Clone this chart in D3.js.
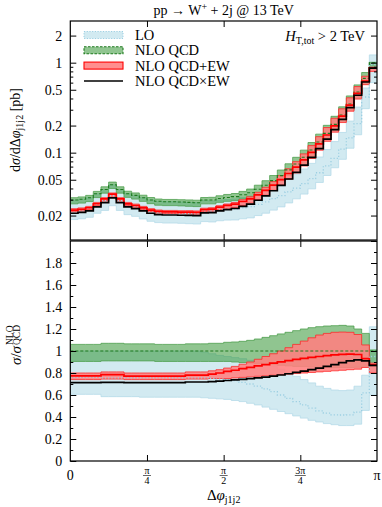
<!DOCTYPE html>
<html><head><meta charset="utf-8">
<script src="https://cdn.jsdelivr.net/npm/d3@7"></script>
<style>
body{margin:0;background:#fff}
svg{display:block}
text{font-family:"Liberation Serif","DejaVu Serif",serif;fill:#000}
</style>
</head><body>
<svg id="c" width="382" height="507"></svg>
<script>
// ---- data (40 bins in Δφ from 0 to π) ----
const nBins = 40;
const nloQCD = [0.0298,0.0304,0.0316,0.035,0.039,0.044,0.039,0.035,0.0335,0.0316,
  0.0298,0.0288,0.0285,0.0285,0.0283,0.0280,0.0278,0.0298,0.0298,0.0310,
  0.0318,0.0325,0.0341,0.0359,0.0392,0.0434,0.0489,0.0555,0.0643,0.0749,
  0.0889,0.107,0.1315,0.164,0.206,0.262,0.348,0.472,0.67,1.0];
// ratios to NLO QCD
const nloLo = [0.905,0.905,0.905,0.905,0.91,0.91,0.91,0.91,0.91,0.91,
  0.91,0.905,0.905,0.905,0.905,0.905,0.905,0.905,0.905,0.905,
  0.905,0.9,0.895,0.89,0.885,0.88,0.875,0.87,0.865,0.86,
  0.858,0.855,0.853,0.852,0.85,0.85,0.85,0.852,0.86,0.86];
const nloHi = [1.06,1.06,1.06,1.06,1.07,1.07,1.07,1.065,1.065,1.065,
  1.065,1.06,1.06,1.06,1.06,1.065,1.065,1.065,1.07,1.07,
  1.079,1.082,1.088,1.097,1.109,1.124,1.139,1.155,1.17,1.185,
  1.2,1.212,1.221,1.227,1.23,1.233,1.227,1.2,1.16,1.01];
const loRatio = [0.76,0.76,0.76,0.76,0.755,0.755,0.755,0.755,0.755,0.755,
  0.755,0.755,0.755,0.755,0.755,0.755,0.755,0.755,0.75,0.745,
  0.74,0.73,0.715,0.70,0.68,0.655,0.63,0.60,0.57,0.54,
  0.51,0.48,0.455,0.435,0.42,0.418,0.42,0.445,0.62,0.95];
const loLo = [0.606,0.606,0.606,0.606,0.585,0.585,0.585,0.585,0.585,0.58,
  0.58,0.58,0.58,0.58,0.58,0.58,0.58,0.575,0.57,0.565,
  0.56,0.55,0.54,0.525,0.51,0.49,0.47,0.45,0.43,0.41,
  0.39,0.37,0.355,0.34,0.33,0.322,0.322,0.335,0.46,0.6];
const loHi = [1.0,1.0,1.0,1.0,1.0,1.0,1.0,1.0,1.0,1.0,
  1.0,1.0,1.0,1.0,1.0,1.0,1.0,0.99,0.975,0.96,
  0.95,0.94,0.93,0.915,0.90,0.88,0.86,0.835,0.80,0.77,
  0.74,0.71,0.68,0.66,0.645,0.64,0.645,0.68,0.78,1.22];
const ewRatio = [0.773,0.773,0.773,0.773,0.785,0.785,0.785,0.772,0.772,0.772,
  0.772,0.772,0.772,0.772,0.772,0.78,0.78,0.78,0.79,0.80,
  0.815,0.825,0.84,0.852,0.865,0.877,0.89,0.902,0.913,0.923,
  0.933,0.942,0.95,0.958,0.965,0.97,0.972,0.968,0.93,0.875];
const ewLo = [0.74,0.74,0.74,0.74,0.745,0.745,0.745,0.74,0.74,0.74,
  0.74,0.74,0.74,0.74,0.74,0.745,0.745,0.745,0.75,0.75,
  0.75,0.755,0.76,0.765,0.77,0.775,0.78,0.785,0.79,0.795,
  0.80,0.805,0.81,0.815,0.82,0.825,0.83,0.835,0.85,0.80];
const ewHi = [0.80,0.80,0.80,0.80,0.81,0.81,0.81,0.80,0.80,0.80,
  0.80,0.80,0.80,0.80,0.80,0.81,0.81,0.81,0.82,0.83,
  0.845,0.86,0.88,0.90,0.925,0.95,0.975,1.0,1.03,1.06,
  1.09,1.12,1.145,1.16,1.17,1.172,1.17,1.15,1.055,0.89];
const mulRatio = [0.712,0.712,0.712,0.712,0.715,0.715,0.715,0.712,0.712,0.712,
  0.712,0.712,0.712,0.712,0.712,0.718,0.718,0.718,0.722,0.726,
  0.732,0.737,0.742,0.748,0.755,0.763,0.772,0.782,0.793,0.805,
  0.817,0.83,0.845,0.86,0.877,0.895,0.91,0.92,0.91,0.87];
const topTicks = [0.02,0.05,0.1,0.2,0.5,1,2];
const topTickLabels = ["0.02","0.05","0.1","0.2","0.5","1","2"];
const botTicks = [0,0.2,0.4,0.6,0.8,1.0,1.2,1.4,1.6,1.8];
const botTickLabels = ["0","0.2","0.4","0.6","0.8","1","1.2","1.4","1.6","1.8"];
const xTickNum = ["0","π","π","3π","π"];
const xTickDen = ["","4","2","4",""];
const legendLabels = ["LO","NLO QCD","NLO QCD+EW","NLO QCD×EW"];

// ---- layout ----
const svg = d3.select("#c");
const L = 70.3, R = 377;
const top1 = 21, bot1 = 240, top2 = 241, bot2 = 461;
const FS = 14;
const x = d3.scaleLinear().domain([0, Math.PI]).range([L, R]);
const yT = d3.scaleLog().domain([0.0107, 2.905]).range([bot1, top1]);
const yB = d3.scaleLinear().domain([0, 2]).range([bot2, top2]);
const bw = Math.PI / nBins;

const C = {
  loFill: "rgba(173,216,230,0.55)", loEdge: "#b5dbe9", loLine: "#9ccfe2",
  nloFill: "rgba(34,139,34,0.5)", nloEdge: "#4f9f4f", nloLine: "#1e7a1e",
  ewFill: "rgba(255,128,128,0.88)", ewEdge: "#ff2a2a", ewLine: "#ff0000",
  mulLine: "#000"
};

function stepLine(vals) {
  const pts = [];
  vals.forEach((v, i) => { pts.push([i * bw, v]); pts.push([(i + 1) * bw, v]); });
  return pts;
}
function stepBand(lo, hi) {
  const pts = [];
  lo.forEach((v, i) => { pts.push([i * bw, v, hi[i]]); pts.push([(i + 1) * bw, v, hi[i]]); });
  return pts;
}
const mul = (a, b) => a.map((v, i) => v * b[i]);

const defs = svg.append("defs");
defs.append("clipPath").attr("id", "clipT").append("rect")
  .attr("x", L).attr("y", top1).attr("width", R - L).attr("height", bot1 - top1);
defs.append("clipPath").attr("id", "clipB").append("rect")
  .attr("x", L).attr("y", top2).attr("width", R - L).attr("height", bot2 - top2);

function drawPanel(clip, y, S) {
  const g = svg.append("g").attr("clip-path", `url(#${clip})`);
  const area = d3.area().x(d => x(d[0])).y0(d => y(d[1])).y1(d => y(d[2]));
  const line = d3.line().x(d => x(d[0])).y(d => y(d[1]));
  const band = (lo, hi, fill, edge) => {
    const pts = stepBand(lo, hi);
    g.append("path").attr("d", area(pts)).attr("fill", fill).attr("stroke", "none");
    [lo, hi].forEach(arr => g.append("path").attr("d", line(stepLine(arr)))
      .attr("fill", "none").attr("stroke", edge).attr("stroke-width", 0.8));
  };
  band(S.loLo, S.loHi, C.loFill, C.loEdge);
  band(S.nloLo, S.nloHi, C.nloFill, C.nloEdge);
  band(S.ewLo, S.ewHi, C.ewFill, C.ewEdge);
  g.append("path").attr("d", line(stepLine(S.lo))).attr("fill", "none")
    .attr("stroke", C.loLine).attr("stroke-width", 1.3).attr("stroke-dasharray", "1.2,2");
  g.append("path").attr("d", line(stepLine(S.nlo))).attr("fill", "none")
    .attr("stroke", C.nloLine).attr("stroke-width", 1.1).attr("stroke-dasharray", "3,2");
  g.append("path").attr("d", line(stepLine(S.ew))).attr("fill", "none")
    .attr("stroke", C.ewLine).attr("stroke-width", 1.7);
  g.append("path").attr("d", line(stepLine(S.mul))).attr("fill", "none")
    .attr("stroke", C.mulLine).attr("stroke-width", 1.7);
}

// top panel: absolute values
drawPanel("clipT", yT, {
  loLo: mul(nloQCD, loLo), loHi: mul(nloQCD, loHi),
  nloLo: mul(nloQCD, nloLo), nloHi: mul(nloQCD, nloHi),
  ewLo: mul(nloQCD, ewLo), ewHi: mul(nloQCD, ewHi),
  lo: mul(nloQCD, loRatio), nlo: nloQCD, ew: mul(nloQCD, ewRatio), mul: mul(nloQCD, mulRatio)
});
// bottom panel: ratios
drawPanel("clipB", yB, {
  loLo, loHi, nloLo, nloHi, ewLo, ewHi,
  lo: loRatio, nlo: nloQCD.map(() => 1), ew: ewRatio, mul: mulRatio
});

// ---- axes ----
function styleAxis(sel) {
  sel.select(".domain").remove();
  sel.selectAll("line").attr("stroke", "#000").attr("stroke-width", 1);
  sel.selectAll("text").attr("font-size", FS).attr("font-family", "Liberation Serif, DejaVu Serif, serif");
}
const minorT = [];
[0.01, 0.1, 1].forEach(d => { for (let k = 1; k <= 9; k++) { const v = d * k; if (v >= 0.0107 && v <= 2.905 && !topTicks.includes(+v.toFixed(4))) minorT.push(v); } });
svg.append("g").attr("transform", `translate(${L},0)`)
  .call(d3.axisLeft(yT).tickValues(topTicks).tickFormat((d, i) => topTickLabels[i]).tickSize(-6).tickPadding(8))
  .call(styleAxis);
svg.append("g").attr("transform", `translate(${L},0)`)
  .call(d3.axisLeft(yT).tickValues(minorT).tickFormat("").tickSize(-3)).call(styleAxis);
svg.append("g").attr("transform", `translate(${R},0)`)
  .call(d3.axisRight(yT).tickValues(topTicks).tickFormat("").tickSize(-6)).call(styleAxis);
svg.append("g").attr("transform", `translate(${R},0)`)
  .call(d3.axisRight(yT).tickValues(minorT).tickFormat("").tickSize(-3)).call(styleAxis);
const minorB = d3.range(0.1, 2, 0.2);
svg.append("g").attr("transform", `translate(${L},0)`)
  .call(d3.axisLeft(yB).tickValues(botTicks).tickFormat((d, i) => botTickLabels[i]).tickSize(-6).tickPadding(8))
  .call(styleAxis);
svg.append("g").attr("transform", `translate(${L},0)`)
  .call(d3.axisLeft(yB).tickValues(minorB).tickFormat("").tickSize(-3)).call(styleAxis);
svg.append("g").attr("transform", `translate(${R},0)`)
  .call(d3.axisRight(yB).tickValues(botTicks.concat([2])).tickFormat("").tickSize(-6)).call(styleAxis);
svg.append("g").attr("transform", `translate(${R},0)`)
  .call(d3.axisRight(yB).tickValues(minorB).tickFormat("").tickSize(-3)).call(styleAxis);
const xT = [0, Math.PI / 4, Math.PI / 2, 3 * Math.PI / 4, Math.PI];
const xInner = xT.slice(1, 4);
[[bot1, "b"], [top1, "t"], [bot2, "b"], [top2, "t"]].forEach(([yy, side]) => {
  const ax = side === "b" ? d3.axisBottom(x) : d3.axisTop(x);
  svg.append("g").attr("transform", `translate(0,${yy})`)
    .call(ax.tickValues(xInner).tickFormat("").tickSize(-6)).call(styleAxis);
});
const xl = svg.append("g");
xT.forEach((v, i) => {
  const cx = x(v);
  if (xTickDen[i] === "") {
    xl.append("text").attr("x", cx).attr("y", 479.5).attr("text-anchor", "middle")
      .attr("font-size", FS).text(xTickNum[i]);
  } else {
    xl.append("text").attr("x", cx).attr("y", 473.5).attr("text-anchor", "middle")
      .attr("font-size", 10).text(xTickNum[i]);
    xl.append("line").attr("x1", cx - (i === 3 ? 5.5 : 4)).attr("x2", cx + (i === 3 ? 5.5 : 4))
      .attr("y1", 475.5).attr("y2", 475.5).attr("stroke", "#000").attr("stroke-width", 0.6);
    xl.append("text").attr("x", cx).attr("y", 483.5).attr("text-anchor", "middle")
      .attr("font-size", 10).text(xTickDen[i]);
  }
});

[[top1, bot1], [top2, bot2]].forEach(([a, b]) => svg.append("rect")
  .attr("x", L).attr("y", a).attr("width", R - L).attr("height", b - a)
  .attr("fill", "none").attr("stroke", "#000").attr("stroke-width", 1.2));

// ---- texts ----
const title = svg.append("text").attr("x", (L + R) / 2).attr("y", 14.5)
  .attr("text-anchor", "middle").attr("font-size", 14);
title.append("tspan").text("pp → W");
title.append("tspan").attr("font-size", 10).attr("dy", -5).text("+");
title.append("tspan").attr("dy", 5).text(" + 2j @ 13 TeV");

const ht = svg.append("text").attr("x", 365).attr("y", 41).attr("text-anchor", "end").attr("font-size", 14.5);
ht.append("tspan").attr("font-style", "italic").text("H");
ht.append("tspan").attr("font-size", 10).attr("dy", 3).text("T,tot");
ht.append("tspan").attr("dy", -3).text(" > 2 TeV");

const yt1 = svg.append("text").attr("transform", "translate(20,130) rotate(-90)")
  .attr("text-anchor", "middle").attr("font-size", 14);
yt1.append("tspan").text("d");
yt1.append("tspan").attr("font-style", "italic").text("σ");
yt1.append("tspan").text("/dΔ");
yt1.append("tspan").attr("font-style", "italic").text("φ");
yt1.append("tspan").attr("font-size", 10).attr("dy", 3).text("j1j2");
yt1.append("tspan").attr("dy", -3).text(" [pb]");

const yb = svg.append("g").attr("transform", "translate(21,347) rotate(-90)");
yb.append("text").attr("x", 1).attr("y", 0).attr("text-anchor", "end").attr("font-size", 15)
  .html('<tspan font-style="italic">σ</tspan>/<tspan font-style="italic">σ</tspan>');
yb.append("text").attr("x", 2).attr("y", -8).attr("font-size", 9.5).text("NLO");
yb.append("text").attr("x", 2).attr("y", -1).attr("font-size", 9.5).text("QCD");

const xt = svg.append("text").attr("x", (L + R) / 2).attr("y", 500).attr("text-anchor", "middle").attr("font-size", 15);
xt.append("tspan").text("Δ");
xt.append("tspan").attr("font-style", "italic").text("φ");
xt.append("tspan").attr("font-size", 10).attr("dy", 3).text("j1j2");

// ---- legend ----
const lg = svg.append("g");
const rows = [35, 50.3, 65.6, 81];
const lx0 = 84, lx1 = 123;
lg.append("rect").attr("x", lx0).attr("y", rows[0] - 3.5).attr("width", lx1 - lx0).attr("height", 7)
  .attr("fill", C.loFill).attr("stroke", C.loLine).attr("stroke-width", 1).attr("stroke-dasharray", "1.2,1.5");
lg.append("rect").attr("x", lx0).attr("y", rows[1] - 3.5).attr("width", lx1 - lx0).attr("height", 7)
  .attr("fill", C.nloFill).attr("stroke", C.nloLine).attr("stroke-width", 1.1).attr("stroke-dasharray", "2.5,1.5");
lg.append("rect").attr("x", lx0).attr("y", rows[2] - 3.5).attr("width", lx1 - lx0).attr("height", 7)
  .attr("fill", C.ewFill).attr("stroke", C.ewLine).attr("stroke-width", 1.1);
lg.append("line").attr("x1", lx0).attr("x2", lx1).attr("y1", rows[3]).attr("y2", rows[3])
  .attr("stroke", "#000").attr("stroke-width", 1.4);
legendLabels.forEach((t, i) => lg.append("text").attr("x", 135).attr("y", rows[i] + 5)
  .attr("font-size", 14.5).text(t));
</script>
</body></html>
